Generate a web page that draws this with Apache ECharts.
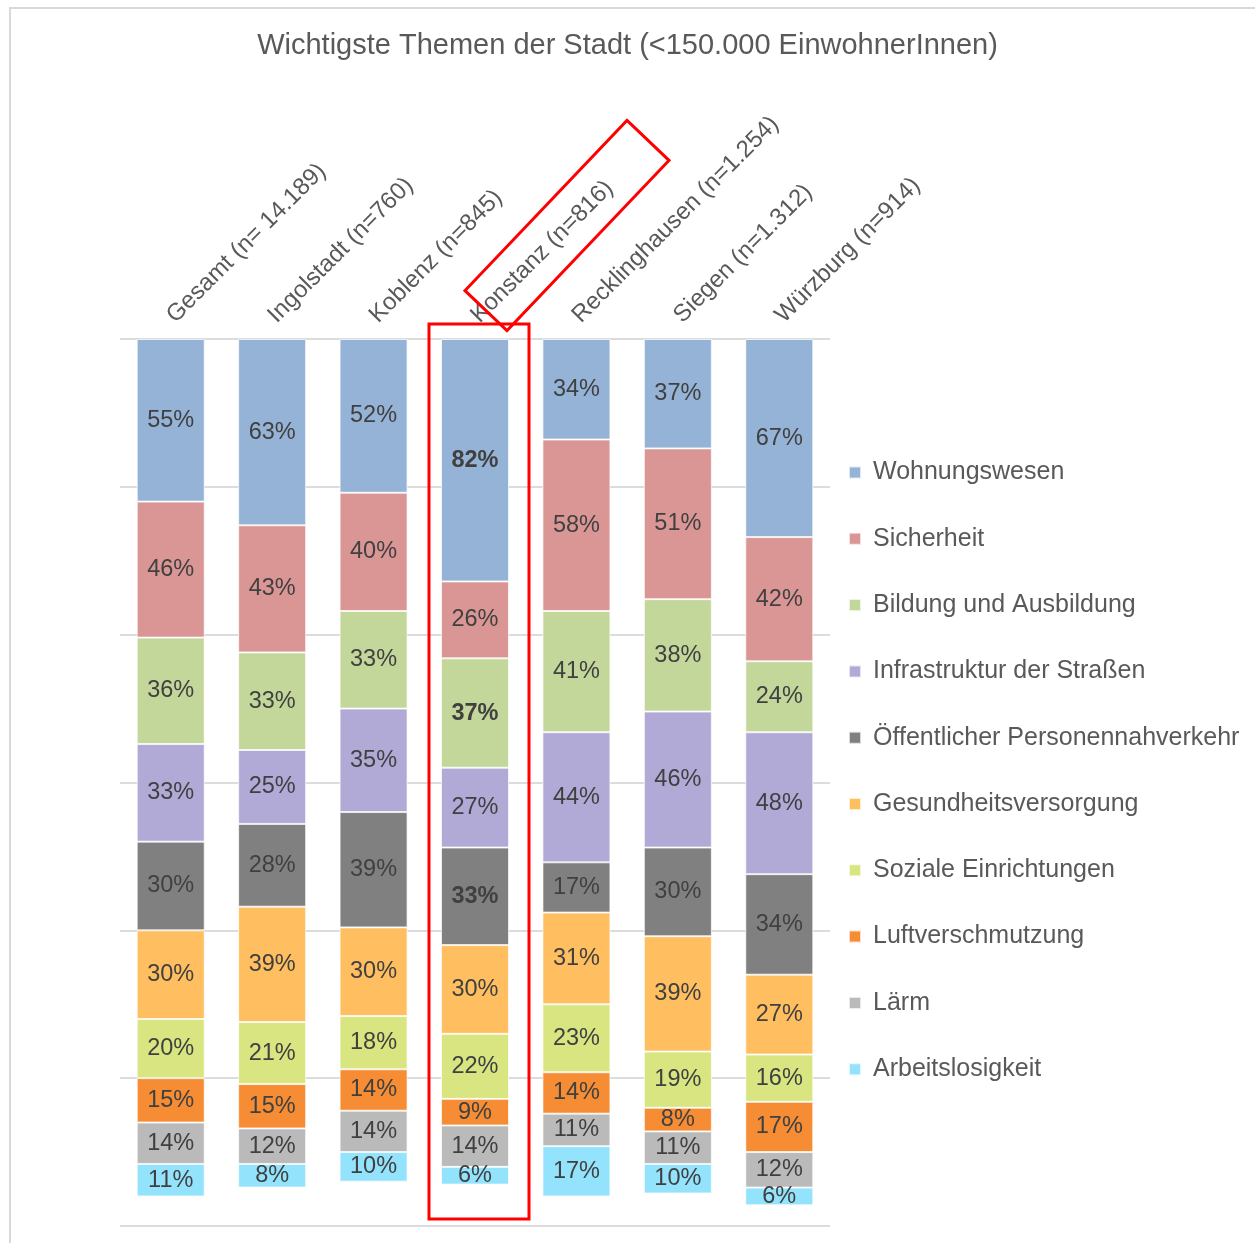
<!DOCTYPE html>
<html>
<head>
<meta charset="utf-8">
<script src="https://cdn.jsdelivr.net/npm/echarts@6/dist/echarts.min.js"></script>
</head>
<body style="margin:0">
<div id="main" style="width:1255px;height:1243px;"></div>
<script type="text/javascript">
    var cities = ['Gesamt (n= 14.189)', 'Ingolstadt (n=760)', 'Koblenz (n=845)', 'Konstanz (n=816)',
        'Recklinghausen (n=1.254)', 'Siegen (n=1.312)', 'Würzburg (n=914)'];
    var themes = ['Wohnungswesen', 'Sicherheit', 'Bildung und Ausbildung', 'Infrastruktur der Straßen',
        'Öffentlicher Personennahverkehr', 'Gesundheitsversorgung', 'Soziale Einrichtungen',
        'Luftverschmutzung', 'Lärm', 'Arbeitslosigkeit'];
    var colors = ['#95b3d7', '#da9694', '#c4d79b', '#b1a9d6', '#808080', '#ffbe5f', '#d8e580', '#f68c33', '#bababa', '#93e3fc'];

    var wohnungswesen = [55, 63, 52, 82, 34, 37, 67];
    var sicherheit = [46, 43, 40, 26, 58, 51, 42];
    var bildung = [36, 33, 33, 37, 41, 38, 24];
    var infrastruktur = [33, 25, 35, 27, 44, 46, 48];
    var oepnv = [30, 28, 39, 33, 17, 30, 34];
    var gesundheit = [30, 39, 30, 30, 31, 39, 27];
    var soziales = [20, 21, 18, 22, 23, 19, 16];
    var luft = [15, 15, 14, 9, 14, 8, 17];
    var laerm = [14, 12, 14, 14, 11, 11, 12];
    var arbeitslos = [11, 8, 10, 6, 17, 10, 6];

    var values = [wohnungswesen, sicherheit, bildung, infrastruktur, oepnv,
        gesundheit, soziales, luft, laerm, arbeitslos];
    // fett hervorgehobene Werte für Konstanz (Serienindex)
    var boldKonstanz = [0, 2, 4];
    var highlightCity = 3;

    var myChart = echarts.init(document.getElementById('main'));

    var series = themes.map(function (name, i) {
        return {
            name: name,
            type: 'bar',
            stack: 'total',
            barWidth: 68,
            itemStyle: {color: colors[i], borderColor: 'rgba(255,255,255,0.7)', borderWidth: 1},
            label: {
                show: true,
                position: 'inside',
                color: '#404040',
                fontSize: 23.5,
                fontFamily: 'Liberation Sans, Arial, sans-serif',
                formatter: '{c}%'
            },
            data: values[i].map(function (v, j) {
                if (j === highlightCity && boldKonstanz.indexOf(i) >= 0) {
                    return {value: v, label: {fontWeight: 'bold'}};
                }
                return v;
            })
        };
    });

    var option = {
        backgroundColor: '#fff',
        animation: false,
        title: {
            text: 'Wichtigste Themen der Stadt (<150.000 EinwohnerInnen)',
            left: 'center',
            top: 26,
            textStyle: {
                fontSize: 29,
                fontWeight: 'normal',
                color: '#595959',
                fontFamily: 'Liberation Sans, Arial, sans-serif'
            }
        },
        legend: {
            orient: 'vertical',
            left: 848,
            top: 460,
            padding: 0,
            itemWidth: 12,
            itemHeight: 12,
            itemGap: 41.3,
            icon: 'rect',
            data: themes,
            textStyle: {
                fontSize: 25,
                lineHeight: 25,
                color: '#595959',
                padding: [0, 0, 0, 7],
                fontFamily: 'Liberation Sans, Arial, sans-serif'
            }
        },
        grid: {left: 120, width: 710, top: 339, bottom: 17},
        xAxis: {
            type: 'category',
            position: 'top',
            data: cities,
            axisLine: {show: false},
            axisTick: {show: false},
            axisLabel: {
                rotate: 45,
                interval: 0,
                margin: 20,
                fontSize: 24,
                color: '#595959',
                fontFamily: 'Liberation Sans, Arial, sans-serif'
            }
        },
        yAxis: {
            type: 'value',
            inverse: true,
            min: 0,
            max: 300,
            interval: 50,
            axisLabel: {show: false},
            axisLine: {show: false},
            axisTick: {show: false},
            splitLine: {lineStyle: {color: '#dcdcdc', width: 2}}
        },
        series: series
    };
    myChart.setOption(option);

    // Rahmen und rote Markierung um Konstanz
    var cx = myChart.convertToPixel({xAxisIndex: 0}, cities[highlightCity]);
    myChart.setOption({
        graphic: [{
            type: 'rect',
            shape: {x: 10, y: 8, width: 1260, height: 1260},
            style: {fill: 'none', stroke: '#d9d9d9', lineWidth: 2},
            silent: true
        }, {
            type: 'rect',
            shape: {x: cx - 46, y: 324, width: 100, height: 895},
            style: {fill: 'none', stroke: '#ff0000', lineWidth: 3},
            silent: true, z: 100
        }, {
            type: 'rect',
            x: cx + 92,
            y: 225.5,
            rotation: 0.81,
            shape: {x: -117.5, y: -29, width: 235, height: 58},
            style: {fill: 'none', stroke: '#ff0000', lineWidth: 3},
            silent: true, z: 100
        }]
    });
</script>
</body>
</html>
